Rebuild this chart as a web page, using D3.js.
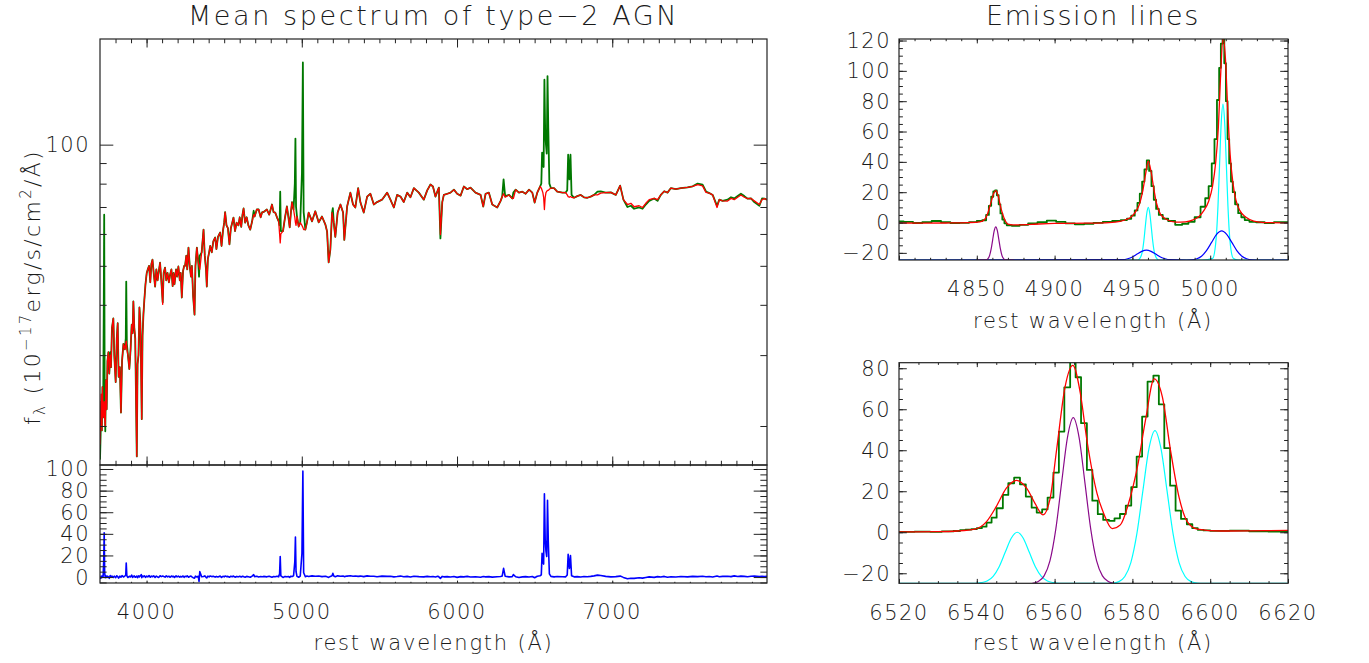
<!DOCTYPE html>
<html>
<head>
<meta charset="utf-8">
<script src="https://cdn.jsdelivr.net/npm/d3@7"></script>
<style>
  body { margin: 0; background: #fff; }
  svg text { font-family: "DejaVu Sans", sans-serif; font-weight: 200; fill: #1a1a1a; }
</style>
</head>
<body>
<svg id="chart" width="1369" height="663"></svg>
<script>
// ---- mean spectrum (rest wavelength, model fit, observed, residual emission) ----
const mainWave = [
  3700, 3704, 3708, 3712, 3716, 3720, 3724, 3727, 3730, 3734,
  3738, 3743, 3748, 3754, 3760, 3766, 3771, 3777, 3786, 3792,
  3801, 3808, 3814, 3820, 3828, 3835, 3842, 3851, 3860, 3866,
  3869, 3873, 3880, 3889, 3897, 3904, 3910, 3915, 3921, 3927,
  3933, 3937, 3942, 3948, 3954, 3960, 3966, 3969, 3974, 3980,
  3986, 3993, 4001, 4008, 4016, 4024, 4031, 4038, 4046, 4055,
  4063, 4071, 4079, 4087, 4095, 4104, 4110, 4119, 4127, 4135,
  4144, 4152, 4160, 4168, 4174, 4180, 4190, 4197, 4205, 4214,
  4220, 4227, 4235, 4242, 4248, 4256, 4262, 4270, 4278, 4286,
  4292, 4300, 4309, 4315, 4324, 4333, 4338, 4343, 4355, 4367,
  4375, 4383, 4388, 4395, 4403, 4410, 4420, 4430, 4442, 4450,
  4460, 4474, 4483, 4492, 4500, 4506, 4515, 4524, 4534, 4543,
  4552, 4560, 4570, 4580, 4592, 4600, 4610, 4618, 4625, 4635,
  4645, 4656, 4668, 4680, 4690, 4696, 4710, 4722, 4735, 4745,
  4754, 4775, 4790, 4808, 4818, 4829, 4840, 4851, 4857, 4861,
  4865, 4879, 4892, 4904, 4914, 4922, 4930, 4937, 4947, 4955,
  4959, 4963, 4969, 4980, 4990, 5001, 5007, 5012, 5023, 5033,
  5044, 5066, 5087, 5109, 5130, 5152, 5163, 5173, 5184, 5195,
  5200, 5206, 5216, 5231, 5249, 5266, 5274, 5292, 5313, 5330,
  5345, 5363, 5378, 5399, 5421, 5442, 5464, 5485, 5517, 5550,
  5571, 5593, 5614, 5636, 5657, 5679, 5700, 5722, 5754, 5786,
  5808, 5829, 5845, 5861, 5876, 5883, 5893, 5905, 5915, 5937,
  5958, 5980, 6001, 6023, 6044, 6066, 6087, 6119, 6152, 6169,
  6184, 6205, 6227, 6259, 6281, 6291, 6300, 6310, 6335, 6356,
  6363, 6378, 6399, 6421, 6442, 6464, 6485, 6500, 6517, 6535,
  6543, 6548, 6553, 6558, 6563, 6568, 6573, 6578, 6583, 6588,
  6595, 6605, 6625, 6646, 6679, 6700, 6710, 6716, 6724, 6731,
  6738, 6754, 6775, 6797, 6818, 6840, 6861, 6883, 6905, 6926,
  6958, 6991, 7023, 7051, 7072, 7098, 7120, 7141, 7173, 7195,
  7216, 7238, 7270, 7292, 7313, 7335, 7356, 7378, 7410, 7442,
  7485, 7518, 7550, 7582, 7604, 7625, 7647, 7675, 7690, 7711,
  7743, 7765, 7786, 7808, 7829, 7851, 7872, 7894, 7915, 7948,
  7965, 7980, 7997
];
const mainModel = [
  18, 21, 24, 19.5, 25, 21, 22, 23, 21, 20,
  26, 22, 29, 30.5, 27, 30, 28, 35, 37, 30,
  25.7, 33, 36, 26.5, 28, 21.6, 29, 32, 31, 32,
  32.5, 31, 30, 27.7, 31, 35.7, 34, 40.8, 35, 33,
  22, 16.8, 28.5, 30, 39.4, 36, 25, 20.8, 33.5, 38,
  41.3, 45, 48, 49, 50, 45.5, 50.5, 51.8, 48, 44.4,
  49, 46, 48.5, 50.9, 46, 40.1, 48, 49.5, 46, 48,
  45.5, 47.6, 49, 44.5, 48, 45, 49, 47, 49.8, 46,
  48, 41.7, 48.5, 50, 50, 53, 49, 55.5, 50, 47,
  50, 42, 37.8, 50, 55.5, 51, 50, 49, 54, 61.5,
  53, 49, 44.4, 52, 54, 56, 54, 57.5, 58.8, 55,
  59, 60.5, 56, 61, 64, 68, 63, 62, 56.5, 62,
  64, 65.9, 61, 64, 63, 66, 62.5, 67, 69.4, 64,
  66, 63, 61.5, 64.5, 67, 66.3, 69, 69, 66, 68,
  68, 69, 67, 71, 68, 67.8, 66, 64.5, 60, 57,
  60, 61, 66, 70.2, 66, 62.3, 68, 72, 69, 66,
  64, 63, 66.3, 62.6, 64, 63, 62.3, 61.5, 61.5, 64,
  67.8, 64.5, 68.3, 64.1, 66.3, 63.3, 60.8, 51, 54.9, 67.8,
  66, 64, 59, 67.8, 71, 67.8, 58, 70.2, 76, 71,
  69.8, 78, 71.8, 67.8, 74.3, 75.5, 71, 72, 73, 76,
  73, 69.8, 75, 74.3, 72, 76, 74, 78, 76, 73,
  77, 79.6, 78.7, 74.3, 77, 78.2, 59.8, 72, 75, 75.5,
  76, 77.3, 75.5, 74.7, 78.7, 77.5, 78.2, 76, 75, 70.2,
  75.5, 76, 71, 69.8, 72.5, 74.3, 75.5, 74, 75, 73.5,
  73.5, 77.3, 76, 76.4, 75.5, 77.3, 76, 71.8, 76, 78.7,
  78, 77, 76, 74, 69, 74, 76, 76.5, 77, 77,
  77.5, 78, 78, 76.4, 76, 76, 75, 74.3, 74, 74.3,
  74, 73.8, 74.5, 75, 74, 73.8, 74.3, 75, 75, 75.8,
  76, 76.1, 75, 79.1, 73, 71, 71.5, 70.1, 70.5, 69.8,
  71.5, 73, 73.5, 73, 75, 76.6, 76, 78, 77.5, 78,
  78.3, 78.8, 79.6, 79, 76.1, 75.8, 75, 69.8, 73, 72.5,
  72.4, 73.5, 73, 74, 75, 74, 73.4, 73.5, 72.5, 71,
  73, 73.4, 73
];
const mainObs = [
  16.5, 19, 23, 19.5, 25, 21, 38, 67, 26, 19.4,
  26, 22, 29, 30.5, 27, 30.5, 28, 35, 37, 30,
  25.7, 33, 36, 26.5, 28, 21.6, 29, 32, 31, 33,
  45.7, 32, 30, 27.7, 31, 35.7, 34, 40.8, 35, 33,
  22, 16.8, 28.5, 30, 39.4, 36, 26, 20.8, 33.5, 38,
  41.3, 45, 48, 49, 50, 45.5, 50.5, 51.8, 48, 44.4,
  49, 46, 48.5, 50.9, 46, 40.6, 48, 49.5, 46, 48,
  45.5, 47.6, 49, 44.5, 48, 45, 49, 47, 49.8, 46,
  48, 41.7, 48.5, 50, 50, 53, 49, 55.5, 50, 47,
  50, 42, 37.8, 50, 55.5, 51, 47, 53, 54, 61.5,
  53, 49, 44.4, 52, 54, 56, 54, 57.5, 58.8, 55,
  59, 60.5, 56, 61, 64, 68, 63, 62, 56.5, 62,
  64, 65.9, 61, 64, 63, 66, 62.5, 67, 69.4, 64,
  66, 63, 61.5, 64.5, 68.5, 66.3, 69, 69, 66, 68,
  68, 69, 67, 71, 68, 67.8, 66, 64.5, 63, 76.4,
  61, 61, 66, 70.2, 66, 62.3, 68, 72, 69, 80,
  103.5, 70, 66.3, 62.6, 64, 85, 160, 68, 61.5, 64,
  67.8, 64.5, 68.3, 64.1, 66.3, 63.3, 60.8, 51, 54.9, 67.8,
  69.5, 64, 59, 67.8, 71, 67.8, 58, 70.2, 76, 71,
  69.8, 78, 71.8, 67.8, 74.3, 75.5, 71, 72, 73, 76,
  73, 69.8, 75, 74.3, 72, 76, 74, 78, 76, 73,
  77, 79.6, 78.7, 74.3, 77, 78.2, 58.5, 72, 75, 75.5,
  76, 77.3, 75.5, 74.7, 78.7, 77.5, 78.2, 76, 75, 70.2,
  75.5, 76, 71, 69.8, 72.5, 74.3, 82, 74.5, 75, 73.5,
  76, 77.3, 76, 76.4, 75.5, 77.3, 76, 71.8, 76, 78.7,
  80, 95.5, 90, 88, 145, 108, 100, 95, 148, 110,
  80, 78, 78, 76.4, 76, 76, 77, 94.4, 82, 94.4,
  75, 73.8, 74.5, 75, 74, 73.8, 74.3, 75, 76.4, 76.5,
  76, 76.1, 75, 79.1, 73, 70, 70.5, 69.3, 69.8, 69.3,
  71, 72.5, 73.5, 72.5, 75, 76.6, 76, 78, 77.5, 78,
  78.3, 78.8, 80, 79.5, 76.5, 75.8, 75, 70.5, 73, 72.5,
  73, 74, 73.5, 74.5, 75.5, 74.5, 73.4, 73.5, 72, 70.5,
  73.5, 73.4, 73
];
const mainResid = [
  0.5, -1, 0.8, -0.5, 1.2, 0.3, 15, 41, 4, -0.6,
  1.1, -0.4, 0.9, 0.2, -1.2, 1.4, 0.1, 1.0, -0.3, 0.8,
  -0.5, 1.2, 0.4, -1.0, 0.9, -0.2, 1.3, 0.1, 0.9, 2,
  13, 1.2, -0.4, 0.7, 0.1, 1.8, -0.3, 0.5, 1.1, -0.2,
  0.3, 0.9, -0.6, 1.1, 0.2, 1.3, 2.2, -0.5, 1.0, 0.4,
  1.2, -0.3, 0.8, 0.2, 1.4, -0.2, 0.9, 0.3, 1.1, -0.4,
  0.9, 0.1, -0.3, 1.2, 0.4, 1.0, 0.6, -0.1, 1.1, 0.2,
  0.8, -0.2, 1.0, 0.3, 0.7, -0.4, 1.1, 0.2, 0.9, -0.1,
  0.6, 0.1, 1.0, -0.3, 0.8, 0.4, 1.2, -0.2, 0.5, 0.9,
  0.2, -0.6, -1.0, 0.8, 0.1, 0.7, -4, 5, 0.3, 0.5,
  1.1, -0.2, -0.8, 0.9, 0.2, 1.0, 0.4, 0.8, -0.1, 0.6,
  0.1, 0.9, -0.3, 0.7, 0.2, 1.0, 0.4, 0.6, -0.2, 0.8,
  0.3, 0.9, -0.1, 0.6, 0.2, 0.8, 0.1, 0.7, 0.4, -0.2,
  0.6, 0.3, -0.2, 0.9, 2.2, 0.4, 0.7, 0.1, 0.5, 0.3,
  0.6, 0.2, 0.8, -0.1, 0.5, 0.3, 0.7, 0.2, 3, 19,
  1.2, -0.4, 0.6, 0.2, 0.5, -0.3, 0.8, 0.4, 1.2, 14,
  37, 5, 0.6, -0.2, 0.8, 22, 98, 4, 0.3, 0.9,
  0.5, 1.1, 0.7, 0.9, 0.4, 0.8, 0.2, -0.3, 0.6, 1.2,
  3.4, 0.9, 0.3, 1.1, 0.8, 1.0, 0.4, 0.9, 1.2, 0.7,
  1.0, 0.6, 0.9, 0.4, 1.1, 0.7, 0.8, 0.3, 0.9, 0.6,
  0.7, 0.2, 0.5, 0.9, 0.3, 0.6, 0.1, 0.8, 0.4, 0.2,
  0.6, 0.3, 0.5, 0.1, 0.7, 0.2, -1.2, 0.6, 0.2, 0.4,
  0.1, 0.5, -0.3, 0.4, 0.2, 0.6, 0.1, 0.3, -0.2, 0.5,
  0.2, 0.4, -0.1, 0.3, 0.5, 0.9, 8, 0.8, 0.2, 0.4,
  2.3, 0.3, -0.4, 0.2, 0.4, 0.1, 0.5, -0.6, 0.8, 1.2,
  2, 22, 14, 12, 77, 35, 24, 19, 71, 33,
  3, 0.6, 0.2, 0.5, 0.3, 0.2, 2, 21, 8, 20,
  1.2, 0.2, 0.4, 0.1, 0.5, 0.3, 0.6, 1.1, 1.8, 1.4,
  0.6, 0.2, 0.4, 0.9, -0.3, -1.6, -1.1, -1.2, -0.6, -1.0,
  -0.4, 0.2, -0.3, 0.4, 0.1, 0.6, -0.2, 0.3, 0.1, 0.5,
  0.2, 0.6, 0.4, 0.7, 0.3, 0.5, 0.1, 0.9, 0.3, 0.6,
  0.8, 0.4, 1.1, 0.5, 0.9, 0.6, 0.3, 0.7, 1.0, 0.4,
  0.8, 0.5, 0.6
];

// ---- H-beta / [OIII] zoom ----
const o3ObsWave = [
  4800, 4806, 4812, 4818, 4824, 4830, 4836, 4842, 4848, 4852,
  4855, 4857, 4858.5, 4860, 4861.2, 4862.3, 4863.5, 4864.6, 4865.8, 4867,
  4868.5, 4870, 4875, 4880, 4886, 4892, 4898, 4904, 4910, 4916,
  4922, 4928, 4934, 4940, 4945, 4948, 4950.5, 4952.5, 4954, 4955.5,
  4957, 4958.5, 4960, 4961.5, 4963, 4964.5, 4966, 4968, 4971, 4975,
  4980, 4984, 4988, 4992, 4995.6, 4998, 5000, 5002, 5003.5, 5005.2,
  5006.3, 5007.4, 5008.5, 5009.6, 5010.6, 5011.7, 5012.7, 5014, 5015, 5017,
  5019, 5021, 5023.4, 5027, 5032, 5038, 5044, 5050
];
const o3Obs = [
  0.8, 0.5, -0.3, 0.3, 1.0, 0.2, -0.3, -0.2, 0.3, 1.0,
  1.5, 5, 11, 17, 20.5, 21.2, 18, 12, 6, 2,
  -0.5, -1.8, -2.2, -1.5, -0.5, 0.2, 1.2, 0.5, -0.5, -1.2,
  -0.8, -0.2, 0.5, 1.0, 1.6, 2.5, 4.5, 8, 13, 19,
  27, 35, 41, 34, 24, 15, 9, 5, 2.5, 1,
  -1.5, -0.8, 0.5, 3.5, 10.4, 16, 24, 39, 55, 80.8,
  102, 118, 122, 105, 80, 55, 39, 27, 20, 12,
  6.2, 3.5, 1.6, 0.5, 0.2, -0.3, 0.3, 0.3
];
const o3FitWave = [
  4800, 4815, 4830, 4845, 4852, 4855, 4857, 4859, 4861, 4862.3,
  4863.6, 4865.5, 4867.5, 4870, 4875, 4885, 4900, 4920, 4935, 4942,
  4946, 4949, 4952, 4954.5, 4956.5, 4958.5, 4960.2, 4962, 4963.8, 4965.5,
  4968, 4972, 4978, 4984, 4989, 4993, 4996, 4999, 5001.5, 5003.5,
  5005.2, 5006.6, 5008.3, 5009.8, 5011.2, 5012.8, 5014.5, 5016.5, 5019, 5023,
  5028, 5035, 5050
];
const o3Fit = [
  -0.3, -0.4, -0.3, 0, 0.5, 2, 6, 13, 19.5, 21,
  18, 9.5, 3, -1, -1.6, -1.2, -0.6, -0.4, 0, 0.8,
  2, 3.5, 7, 12, 20, 32, 40.5, 33.5, 22, 12.7,
  5.5, 2, 0.3, 0.5, 1.8, 4.2, 8, 14, 24, 39.3,
  62, 95, 122, 108, 76, 45, 27, 15, 8, 3.5,
  1, 0, -0.2
];
// narrow H-beta (purple), narrow [OIII] (cyan), broad [OIII] (blue), offset to the floor
const hbNarrowWave = [4850, 4856.2, 4857.2, 4858.2, 4859.2, 4860.2, 4861.2, 4862.2, 4863.2, 4864.2, 4865.2, 4866.2, 4867.2, 4868.2, 4874];
const hbNarrow = [-24.7, -24.6, -23.8, -21.8, -17.6, -11.4, -5.4, -2.8, -5.4, -11.4, -17.6, -21.8, -23.8, -24.6, -24.7];
const o3NarrowWave = [
  4800, 4953, 4954.2, 4956.2, 4957.4, 4958.2, 4959.2, 4960.2, 4961.2, 4962.2,
  4963, 4964.2, 4966.2, 4967.4, 4995, 5001.6, 5003.8, 5005, 5006, 5007.1,
  5008.2, 5009.3, 5010.4, 5011.4, 5012.6, 5014.8, 5018, 5050
];
const o3Narrow = [
  -24.7, -24.7, -24.3, -20, -11.7, -3.6, 5.8, 10, 5.8, -3.6,
  -11.7, -20, -24.3, -24.7, -24.7, -23.6, -10.8, 10.9, 37.6, 65.9,
  78, 65.9, 37.6, 10.9, -10.8, -23.6, -24.7, -24.7
];
const o3BroadWave = [
  4800, 4944, 4947, 4950, 4953, 4956, 4959, 4962, 4965, 4968,
  4971, 4974, 4985, 4988, 4991.4, 4994.4, 4997.6, 5000.9, 5004.1, 5007.4,
  5010.6, 5013.9, 5017.1, 5020.4, 5023.4, 5026.9, 5030, 5050
];
const o3Broad = [
  -24.7, -24.5, -23.9, -22.7, -20.8, -19, -18.2, -19, -20.8, -22.7,
  -23.9, -24.5, -24.7, -24.6, -23.9, -22.2, -18.5, -13.1, -7.8, -5.5,
  -7.8, -13.1, -18.5, -22.2, -23.9, -24.6, -24.7, -24.7
];

// ---- H-alpha / [NII] zoom (observed: left edge of each pixel) ----
const haObsWave = [
  6520, 6524, 6528, 6531, 6534, 6535.7, 6537.1, 6538.6, 6540, 6541.3,
  6542.5, 6543.8, 6545.1, 6546.7, 6548.1, 6549.6, 6551.1, 6552.6, 6554.1, 6555.4,
  6556.8, 6558.2, 6559.7, 6561.1, 6562.5, 6564, 6565.4, 6566.8, 6568.3, 6569.7,
  6571.1, 6572.5, 6574, 6575.4, 6576.8, 6578.3, 6579.7, 6581.1, 6582.5, 6583.9,
  6585.4, 6586.8, 6588.2, 6589.7, 6591.1, 6592.5, 6594, 6595.4, 6596.8, 6598.3,
  6600, 6605, 6610, 6615, 6620
];
const haObs = [
  0.2, 0.3, 0.2, 0.4, 0.6, 1, 1.3, 1.5, 2, 2.7,
  4.7, 7.1, 11.7, 18.2, 23.9, 26.6, 23.4, 17.4, 12, 9.6,
  11.2, 16.9, 29.1, 49.1, 70.7, 84, 75.6, 53.2, 30.4, 15.4,
  8.8, 6, 5.5, 6.8, 8.9, 13, 22, 36.9, 56.4, 73.5,
  76.4, 62.4, 41, 22.7, 10.5, 6.5, 3.9, 2, 1.2, 0.9,
  0.7, 0.8, 0.5, 0.3, 0.4
];
const haFitWave = [
  6520, 6530, 6535, 6539.5, 6542.5, 6545, 6547.6, 6550.2, 6552.8, 6555,
  6557, 6558.8, 6560.5, 6562.7, 6564.7, 6566.6, 6568.3, 6570.9, 6572.6, 6574.8,
  6576.9, 6579, 6581.3, 6583.4, 6585.6, 6587.7, 6589.8, 6592, 6594.1, 6596.7,
  6602.7, 6610, 6620
];
const haFit = [
  0.2, 0.3, 0.6, 1.5, 5.2, 12.5, 21.5, 25.3, 21.5, 14,
  8.5, 16, 40, 71, 81.4, 68, 45, 19, 9.3, 1.8,
  3.6, 14, 32, 55, 74.8, 66, 40, 17, 5.2, 1.5,
  0.6, 0.7, 0.9
];
const n2NarrowWave = [
  6520, 6539.5, 6541.1, 6542.65, 6544.2, 6545.75, 6547.3, 6548.85, 6550.4, 6551.95,
  6553.5, 6555.05, 6556.6, 6558.15, 6559.7, 6561.3, 6573.5, 6575, 6576.5, 6578.05,
  6579.6, 6581.15, 6582.7, 6584.25, 6585.8, 6587.35, 6588.9, 6590.45, 6592, 6593.55,
  6595.1, 6596.7, 6598.3, 6620
];
const n2Narrow = [
  -24.9, -24.9, -24.6, -23.8, -21.5, -16.8, -9.8, -2.9, 0, -2.9,
  -9.8, -16.8, -21.5, -23.8, -24.6, -24.9, -24.9, -24.8, -24.1, -21.6,
  -14.8, -0.7, 20.3, 40.8, 49.6, 40.8, 20.3, -0.7, -14.8, -21.6,
  -24.1, -24.8, -24.9, -24.9
];
const haNarrowWave = [6554.3, 6555.8, 6557.3, 6558.8, 6560.3, 6561.8, 6563.3, 6564.8, 6566.3, 6567.8, 6569.3, 6570.8, 6572.3, 6573.8, 6575.3];
const haNarrow = [-24.9, -24, -21.3, -14, 1.4, 24.1, 46.2, 55.9, 46.2, 24.1, 1.4, -14, -21.3, -24, -24.9];

// ---- tick labels ----
const mainXTicks = [4000, 5000, 6000, 7000];
const mainYTicks = [100];
const residYTicks = [0, 20, 40, 60, 80, 100];
const o3XTicks = [4850, 4900, 4950, 5000];
const o3YTicks = [-20, 0, 20, 40, 60, 80, 100, 120];
const haXTicks = [6520, 6540, 6560, 6580, 6600, 6620];
const haYTicks = [-20, 0, 20, 40, 60, 80];

const ink = '#222';
const cGreen = '#007800', cRed = '#ff0000', cBlue = '#0000ff', cCyan = '#00ffff', cPurple = '#8a0a8a';
const svg = d3.select('#chart');

// scales
const xMain = d3.scaleLinear().domain([3700, 7997]).range([100, 767]);
const yMain = d3.scaleLog().domain([16, 183]).range([465, 39]);
const yResid = d3.scaleLinear().domain([-5.5, 103.7]).range([583, 465]);
const xO3 = d3.scaleLinear().domain([4800, 5050]).range([899, 1288]);
const yO3 = d3.scaleLinear().domain([-24.7, 121]).range([260, 39]);
const xHa = d3.scaleLinear().domain([6520, 6620]).range([899, 1288]);
const yHa = d3.scaleLinear().domain([-24.9, 82.7]).range([583.3, 362.7]);

function fmt(v) { return v < 0 ? '\u2212' + Math.abs(v) : String(v); }

// inward ticks on all four sides + frame
function frame(id, x, y, o) {
  const [x0, x1] = x.range(), [y0, y1] = [y.range()[1], y.range()[0]];
  const g = svg.append('g').attr('class', 'frame ' + id);
  const put = (axisFn, scale, vals, len, tr) => {
    g.append('g').attr('transform', tr)
      .call(axisFn(scale).tickValues(vals).tickSize(-len).tickSizeOuter(0).tickFormat(''))
      .call(a => a.select('.domain').remove())
      .call(a => a.selectAll('.tick line').attr('stroke', ink).attr('stroke-width', 1));
  };
  put(d3.axisBottom, x, o.xMajor, o.xLen, `translate(0,${y1})`);
  put(d3.axisBottom, x, o.xMinor, o.xLen / 2, `translate(0,${y1})`);
  put(d3.axisTop, x, o.xMajor, o.xLen, `translate(0,${y0})`);
  put(d3.axisTop, x, o.xMinor, o.xLen / 2, `translate(0,${y0})`);
  put(d3.axisLeft, y, o.yMajor, o.yLen, `translate(${x0},0)`);
  put(d3.axisLeft, y, o.yMinor, o.yLen / 2, `translate(${x0},0)`);
  put(d3.axisRight, y, o.yMajor, o.yLen, `translate(${x1},0)`);
  put(d3.axisRight, y, o.yMinor, o.yLen / 2, `translate(${x1},0)`);
  g.append('rect').attr('x', x0).attr('y', y0).attr('width', x1 - x0).attr('height', y1 - y0)
    .attr('fill', 'none').attr('stroke', ink).attr('stroke-width', 1.2);
}

function clip(id, x, y) {
  svg.append('clipPath').attr('id', id).append('rect')
    .attr('x', x.range()[0]).attr('y', y.range()[1])
    .attr('width', x.range()[1] - x.range()[0]).attr('height', y.range()[0] - y.range()[1]);
}

function curve(x, y, xs, ys, color, width, clipId, kind) {
  const pts = xs.map((w, i) => [w, ys[i]]);
  const line = d3.line().x(d => x(d[0])).y(d => y(d[1])).curve(kind || d3.curveLinear);
  svg.append('path').datum(pts).attr('d', line)
    .attr('fill', 'none').attr('stroke', color).attr('stroke-width', width)
    .attr('stroke-linejoin', 'round').attr('clip-path', `url(#${clipId})`);
}

function label(txt, x, y, size, anchor, spacing) {
  return svg.append('text').attr('x', x).attr('y', y).attr('text-anchor', anchor || 'middle')
    .style('font-size', size + 'px').style('letter-spacing', (spacing || 0) + 'px').text(txt);
}

clip('cMain', xMain, yMain);
clip('cResid', xMain, yResid);
clip('cO3', xO3, yO3);
clip('cHa', xHa, yHa);

// left: mean spectrum
curve(xMain, yMain, mainWave, mainObs, cGreen, 1.8, 'cMain');
curve(xMain, yMain, mainWave, mainModel, cRed, 1.3, 'cMain');
curve(xMain, yResid, mainWave, mainResid, cBlue, 1.6, 'cResid');

frame('main', xMain, yMain, {
  xMajor: mainXTicks, xMinor: d3.range(3800, 8000, 100), xLen: 8.5,
  yMajor: mainYTicks, yMinor: [20, 30, 40, 50, 60, 70, 80, 90], yLen: 13.3
});
frame('resid', xMain, yResid, {
  xMajor: mainXTicks, xMinor: d3.range(3800, 8000, 100), xLen: 2.4,
  yMajor: residYTicks, yMinor: d3.range(-5, 101, 5), yLen: 13.3
});

// right top: H-beta + [OIII]
curve(xO3, yO3, o3NarrowWave, o3Narrow, cCyan, 1.2, 'cO3', d3.curveMonotoneX);
curve(xO3, yO3, o3BroadWave, o3Broad, cBlue, 1.2, 'cO3', d3.curveMonotoneX);
curve(xO3, yO3, hbNarrowWave, hbNarrow, cPurple, 1.2, 'cO3', d3.curveMonotoneX);
curve(xO3, yO3, o3ObsWave, o3Obs, cGreen, 1.8, 'cO3', d3.curveStep);
curve(xO3, yO3, o3FitWave, o3Fit, cRed, 1.3, 'cO3', d3.curveMonotoneX);
frame('o3', xO3, yO3, {
  xMajor: [4800, 4850, 4900, 4950, 5000, 5050], xMinor: d3.range(4810, 5050, 10), xLen: 4.4,
  yMajor: o3YTicks, yMinor: d3.range(-20, 121, 5), yLen: 7.8
});

// right bottom: H-alpha + [NII]
curve(xHa, yHa, n2NarrowWave, n2Narrow, cCyan, 1.2, 'cHa', d3.curveMonotoneX);
curve(xHa, yHa, haNarrowWave, haNarrow, cPurple, 1.2, 'cHa', d3.curveMonotoneX);
curve(xHa, yHa, haObsWave, haObs, cGreen, 1.8, 'cHa', d3.curveStepAfter);
curve(xHa, yHa, haFitWave, haFit, cRed, 1.3, 'cHa', d3.curveMonotoneX);
frame('ha', xHa, yHa, {
  xMajor: haXTicks, xMinor: d3.range(6525, 6620, 5), xLen: 4.4,
  yMajor: haYTicks, yMinor: d3.range(-20, 81, 5), yLen: 7.8
});

// tick labels
const fs = 21, ls = 1.5;
mainXTicks.forEach(v => label(fmt(v), xMain(v), 619, fs, 'middle', ls));
mainYTicks.forEach(v => label(fmt(v), 90, yMain(v) + 7.5, fs, 'end', ls));
residYTicks.forEach(v => label(fmt(v), 90, yResid(v) + 7.5, fs, 'end', ls));
o3XTicks.forEach(v => label(fmt(v), xO3(v), 296, fs, 'middle', ls));
o3YTicks.forEach(v => label(fmt(v), 891, yO3(v) + 7.5, fs, 'end', ls));
haXTicks.forEach(v => label(fmt(v), xHa(v), 620, fs, 'middle', ls));
haYTicks.forEach(v => label(fmt(v), 891, yHa(v) + 7.5, fs, 'end', ls));

// titles
label('Mean spectrum of type\u22122 AGN', 433.5, 25, 27, 'middle', 2.6);
label('Emission lines', 1093, 25, 27, 'middle', 1.6);
label('rest wavelength (\u00c5)', 433.5, 650, 21, 'middle', 1.8);
label('rest wavelength (\u00c5)', 1093, 328, 21, 'middle', 1.8);
label('rest wavelength (\u00c5)', 1093, 650, 21, 'middle', 1.8);

// y-axis title with sub/superscripts
const yt = svg.append('text').attr('transform', 'translate(40,287) rotate(-90)')
  .attr('text-anchor', 'middle').style('font-size', '22px').style('letter-spacing', '2.3px');
yt.append('tspan').text('f');
yt.append('tspan').attr('dy', 5).style('font-size', '15px').text('\u03bb');
yt.append('tspan').attr('dy', -5).text(' (10');
yt.append('tspan').attr('dy', -9).style('font-size', '15px').text('\u221217');
yt.append('tspan').attr('dy', 9).text('erg/s/cm');
yt.append('tspan').attr('dy', -9).style('font-size', '15px').text('2');
yt.append('tspan').attr('dy', 9).text('/\u00c5)');
</script>
</body>
</html>
